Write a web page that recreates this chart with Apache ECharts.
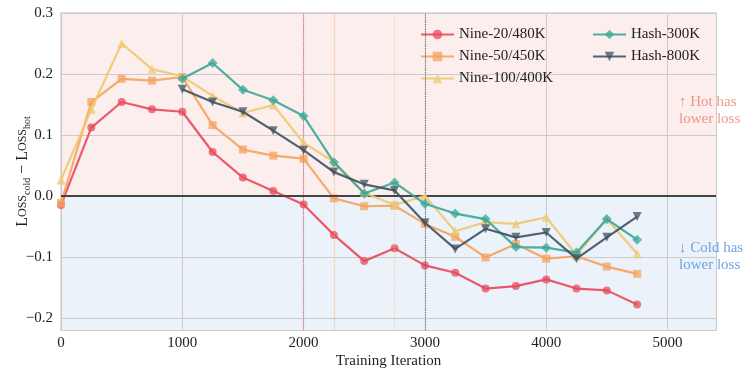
<!DOCTYPE html>
<html>
<head>
<meta charset="utf-8">
<script src="https://cdn.jsdelivr.net/npm/echarts@6/dist/echarts.min.js"></script>
<style>
  html, body { margin: 0; padding: 0; background: #fff; }
  #main { width: 754px; height: 374px; }
</style>
</head>
<body>
<div id="main"></div>
<script>
// training steps
var steps = [0, 250, 500, 750, 1000, 1250, 1500, 1750, 2000, 2250, 2500,
             2750, 3000, 3250, 3500, 3750, 4000, 4250, 4500, 4750];

// loss_cold - loss_hot per run
var nine20 = [-0.015, 0.112, 0.154, 0.142, 0.138, 0.072, 0.030, 0.008, -0.014, -0.064, -0.107,
              -0.086, -0.114, -0.126, -0.152, -0.148, -0.137, -0.152, -0.155, -0.178];
var nine50 = [-0.012, 0.154, 0.192, 0.189, 0.195, 0.116, 0.076, 0.066, 0.061, -0.004, -0.017,
              -0.016, -0.046, -0.067, -0.101, -0.079, -0.103, -0.099, -0.116, -0.128];
var nine100 = [0.026, 0.142, 0.250, 0.208, 0.196, 0.164, 0.136, 0.149, 0.087, 0.056, 0.005,
               -0.015, 0.000, -0.058, -0.043, -0.046, -0.035, -0.097, -0.038, -0.095];
var hash300 = [null, null, null, null, 0.192, 0.218, 0.174, 0.157, 0.131, 0.055, 0.004,
               0.022, -0.013, -0.029, -0.038, -0.084, -0.085, -0.093, -0.038, -0.072];
var hash800 = [null, null, null, null, 0.175, 0.154, 0.138, 0.107, 0.075, 0.039, 0.019,
               0.009, -0.044, -0.087, -0.054, -0.068, -0.060, -0.103, -0.068, -0.034];

var names = ['Nine-20/480K', 'Nine-50/450K', 'Nine-100/400K', 'Hash-300K', 'Hash-800K'];
var lineColors = ['#e8495b', '#f5a25d', '#efc86f', '#3aa796', '#3d5262'];
var symbols = ['circle', 'rect', 'triangle', 'diamond', 'path://M0,0 L10,0 L5,10 Z'];
var symbolSizes = [8, 8, 9, 10, 9];
var cutoffs = [2000, 2250, 2750, null, 3000]; // dotted verticals

var serif = 'Liberation Serif';

function pairs(vals) {
    var out = [];
    for (var i = 0; i < steps.length; i++) {
        if (vals[i] !== null) out.push([steps[i], vals[i]]);
    }
    return out;
}

var allVals = [nine20, nine50, nine100, hash300, hash800];
var series = [];

for (var k = 0; k < 5; k++) {
    var s = {
        name: names[k],
        type: 'line',
        data: pairs(allVals[k]),
        symbol: symbols[k],
        symbolSize: symbolSizes[k],
        color: lineColors[k],
        lineStyle: { width: 2.2, color: lineColors[k], opacity: 0.9 },
        itemStyle: { color: lineColors[k], opacity: 0.75 },
        z: 3 + k
    };
    if (cutoffs[k] !== null) {
        s.markLine = {
            silent: true,
            symbol: 'none',
            label: { show: false },
            lineStyle: { color: lineColors[k], type: 'dotted', width: 1.2, opacity: 0.65 },
            data: [{ xAxis: cutoffs[k] }]
        };
    }
    series.push(s);
}

// zero line
series.push({
    name: 'zero',
    type: 'line',
    data: [],
    z: 2,
    markLine: {
        silent: true,
        symbol: 'none',
        label: { show: false },
        lineStyle: { color: '#444', type: 'solid', width: 2 },
        data: [{ yAxis: 0 }]
    }
});

// side notes
var notes = [
    { value: [5095, 0.14], text: '↑ Hot has\nlower loss', color: '#e9826b' },
    { value: [5095, -0.1], text: '↓ Cold has\nlower loss', color: '#4a8fdc' }
];
series.push({
    name: 'notes',
    type: 'scatter',
    symbolSize: 0,
    silent: true,
    z: 10,
    data: notes.map(function (n) {
        return {
            value: n.value,
            label: {
                show: true,
                position: 'right',
                distance: 0,
                formatter: n.text,
                color: n.color,
                fontFamily: serif,
                fontSize: 15,
                lineHeight: 17,
                align: 'left'
            }
        };
    })
});

var legendText = { fontFamily: serif, fontSize: 15, color: '#222' };
var blue = '#ebf2fa', pink = '#fbeeed';

var option = {
    animation: false,
    textStyle: { fontFamily: serif },
    grid: {
        left: 61, right: 38, top: 13, bottom: 44,
        outerBoundsMode: 'none',
        containLabel: false,
        show: true,
        backgroundColor: 'transparent',
        borderColor: '#d6d6d6',
        borderWidth: 1.5
    },
    legend: [{
        data: names.slice(0, 3),
        orient: 'vertical',
        left: 415, top: 22,
        itemWidth: 33, itemHeight: 12, itemGap: 7,
        textStyle: legendText
    }, {
        data: names.slice(3),
        orient: 'vertical',
        left: 587, top: 22,
        itemWidth: 33, itemHeight: 12, itemGap: 7,
        textStyle: legendText
    }],
    xAxis: {
        type: 'value',
        min: 0, max: 5400, interval: 1000,
        name: 'Training Iteration',
        nameLocation: 'middle',
        nameGap: 24,
        nameMoveOverlap: false,
        nameTextStyle: { fontFamily: serif, fontSize: 15, color: '#222' },
        axisLine: { show: false },
        axisTick: { show: false },
        axisLabel: {
            fontFamily: serif, fontSize: 15, color: '#222', margin: 6, showMaxLabel: false,
            formatter: function (v) { return String(v); }
        },
        splitLine: { show: true, lineStyle: { color: '#cfcaca', width: 1 } }
    },
    yAxis: {
        type: 'value',
        min: -0.22, max: 0.3, splitNumber: 5,
        name: '{b|L}{s|OSS}{sub|cold}{b| − L}{s|OSS}{sub|hot}',
        nameLocation: 'middle',
        nameGap: 29,
        nameMoveOverlap: false,
        nameTextStyle: {
            color: '#222',
            rich: {
                b: { fontFamily: serif, fontSize: 16, color: '#222' },
                s: { fontFamily: serif, fontSize: 12, color: '#222' },
                sub: { fontFamily: serif, fontSize: 10, color: '#222', padding: [8, 0, 0, 0] }
            }
        },
        axisLine: { show: false },
        axisTick: { show: false },
        axisLabel: {
            fontFamily: serif, fontSize: 15, color: '#222', margin: 8,
            showMinLabel: false,
            formatter: function (v) { return (v < 0 ? '−' : '') + Math.abs(v).toFixed(1); }
        },
        splitLine: { show: true, lineStyle: { color: '#cfcaca', width: 1 } },
        splitArea: {
            show: true,
            areaStyle: { color: [blue, blue, blue, pink, pink, pink] }
        }
    },
    series: series
};

var chart = echarts.init(document.getElementById('main'));
chart.setOption(option);
</script>
</body>
</html>
